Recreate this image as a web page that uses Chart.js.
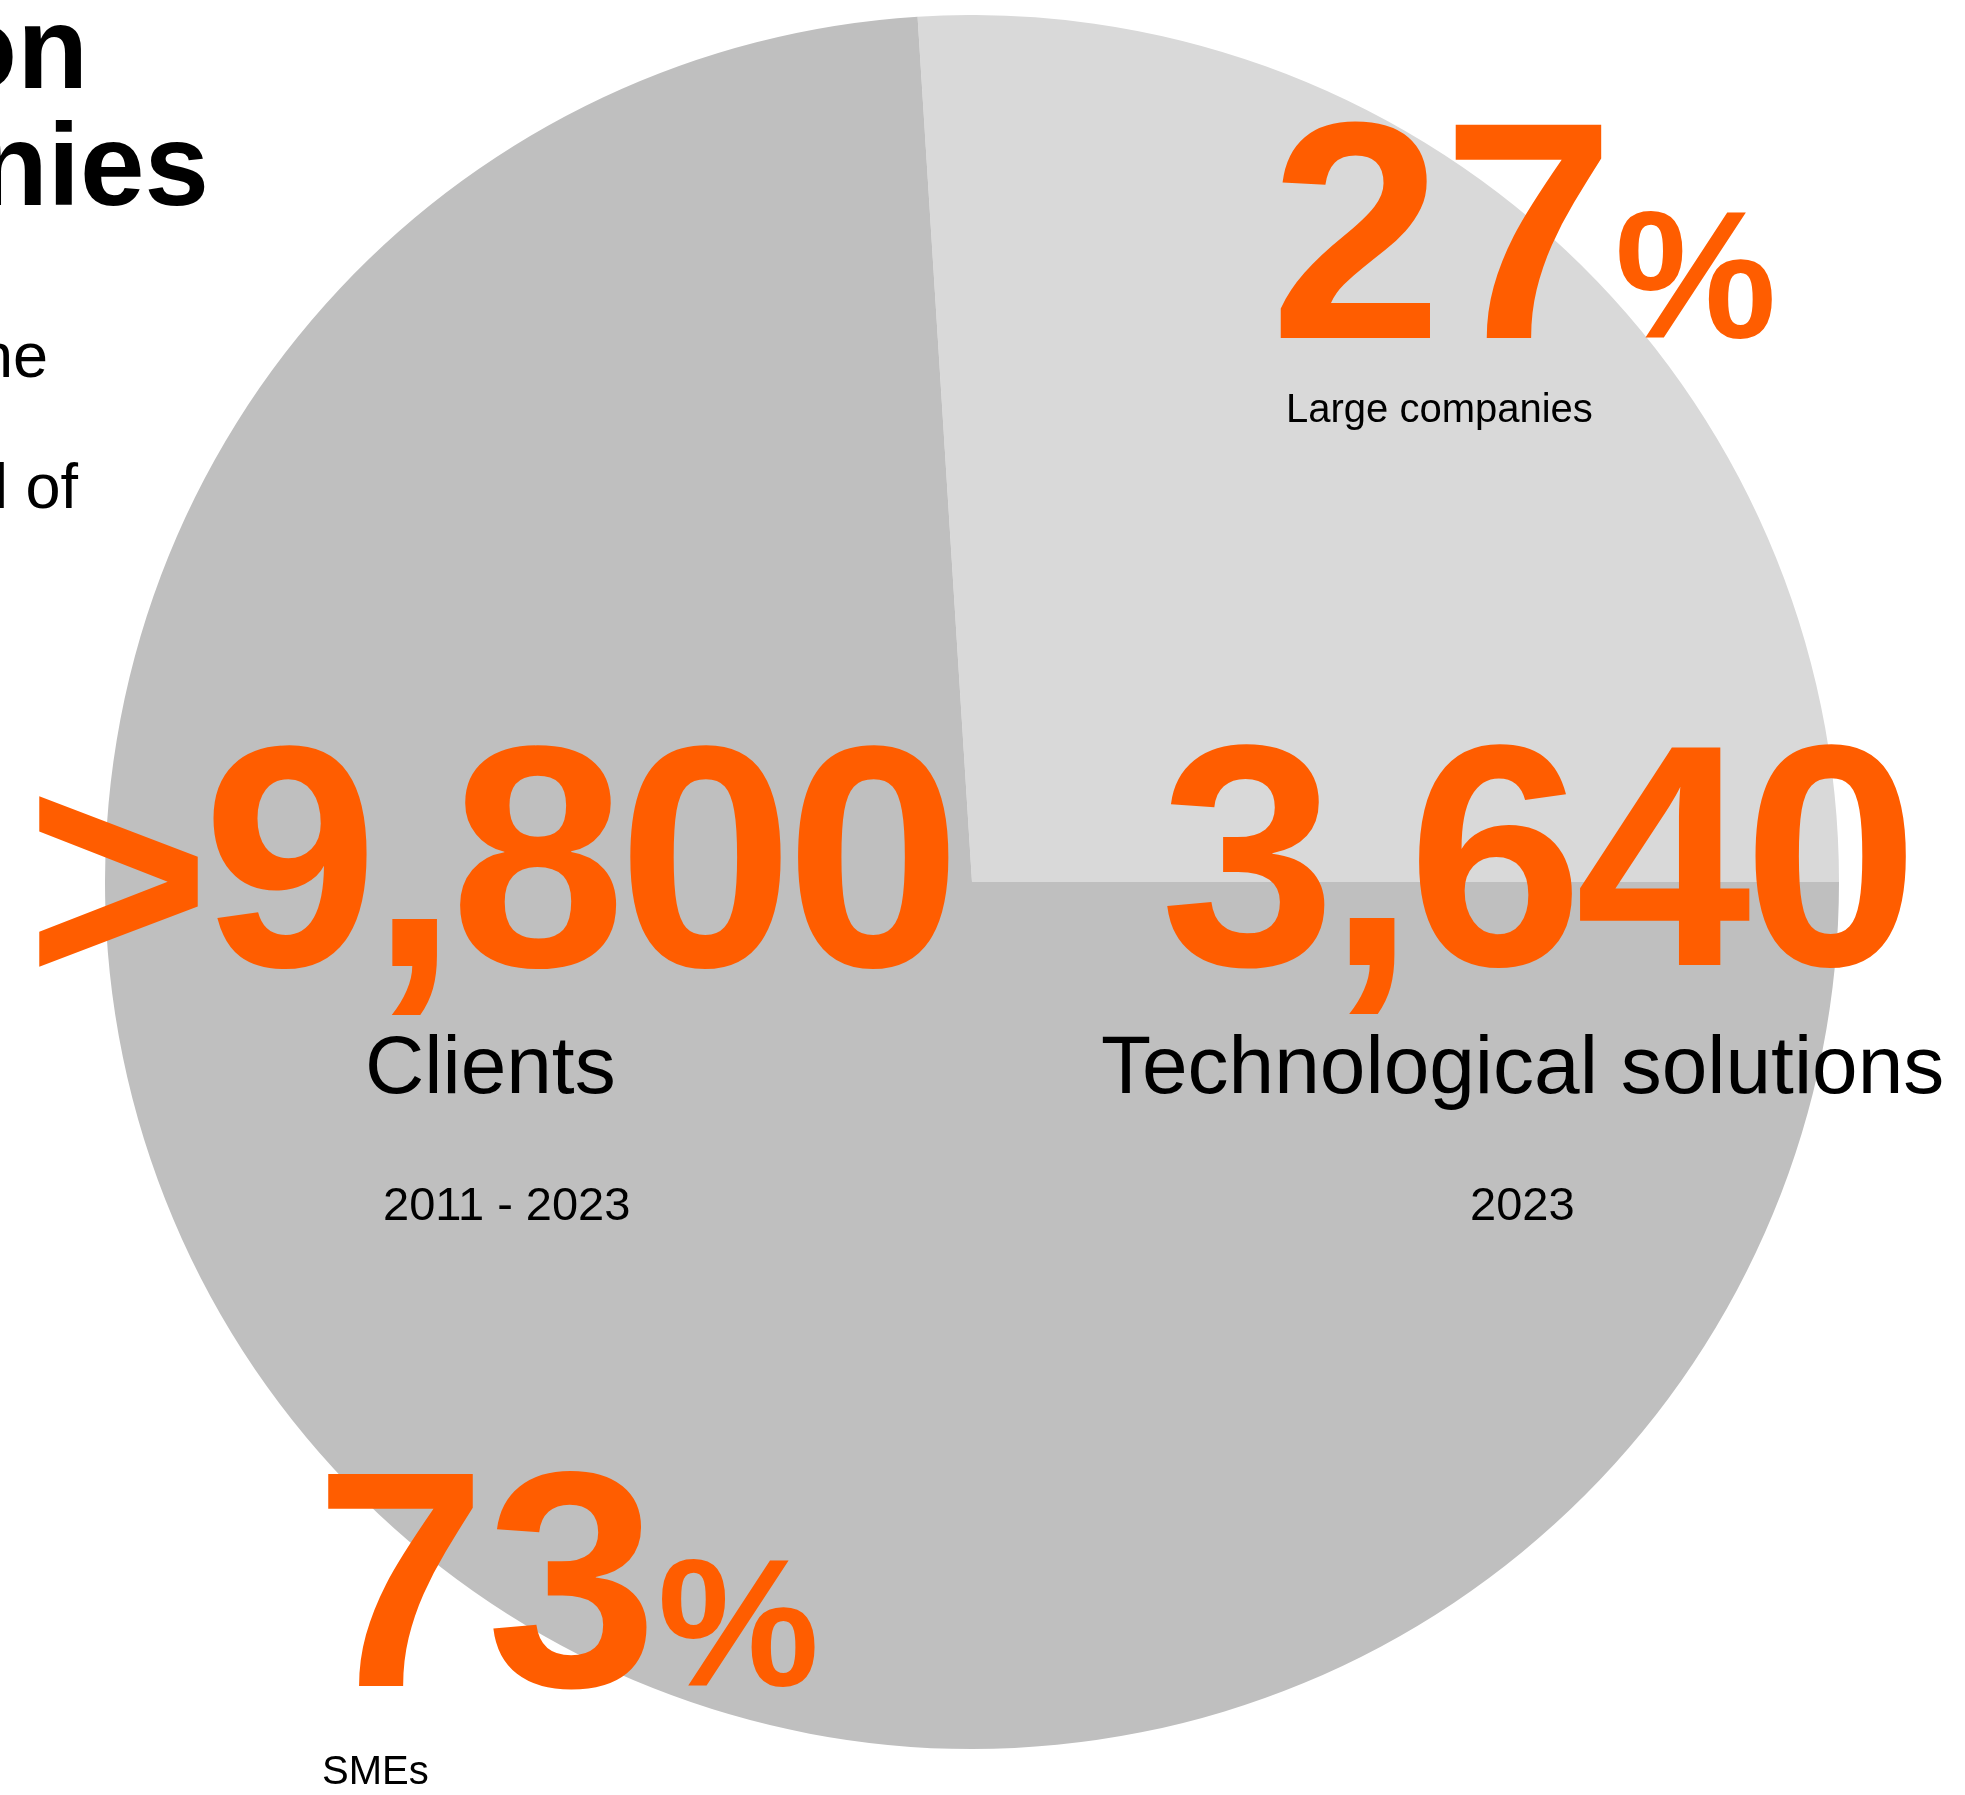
<!DOCTYPE html>
<html>
<head>
<meta charset="utf-8">
<script src="https://cdn.jsdelivr.net/npm/chart.js@4.4.1/dist/chart.umd.min.js"></script>
<style>
  html, body { margin: 0; padding: 0; background: #ffffff; }
  body { width: 1965px; height: 1795px; position: relative; overflow: hidden;
         font-family: "Liberation Sans", Arial, Helvetica, sans-serif; }
  #pie { position: absolute; left: 105px; top: 15px; }
  .t { position: absolute; white-space: nowrap; line-height: 1; }
</style>
</head>
<body>
<canvas id="pie" width="1734" height="1734"></canvas>
<script>
// ---- data ----
const categories = ['Large companies', 'SMEs'];
const shareValues = [26, 74];            // slice sizes as drawn in the picture
const shareLabels = ['27', '73'];        // printed percentages
const sliceColors = ['#d9d9d9', '#bfbfbf'];
const statPrefix = ['>', ''];
const statValues = ['9,800', '3,640'];
const statLabels = ['Clients', 'Technological solutions'];
const statPeriods = ['2011 - 2023', '2023'];
const titleFragments = ['on', 'nies'];
const bodyFragments = ['the', 'l of'];

new Chart(document.getElementById('pie'), {
  type: 'pie',
  data: {
    labels: categories,
    datasets: [{
      data: shareValues,
      backgroundColor: sliceColors,
      borderWidth: 0,
      hoverOffset: 0
    }]
  },
  options: {
    responsive: false,
    animation: false,
    devicePixelRatio: 1,
    rotation: -3.6,
    layout: { padding: 0 },
    plugins: { legend: { display: false }, tooltip: { enabled: false } }
  }
});

// ---- text overlay ----
const ORANGE = '#ff5d00';
function addText(html, opt) {
  const d = document.createElement('div');
  d.className = 't';
  d.innerHTML = html;
  d.style.fontSize = opt.size + 'px';
  d.style.fontWeight = opt.bold ? '700' : '400';
  d.style.color = opt.color || '#000';
  if (opt.ls) d.style.letterSpacing = opt.ls + 'px';
  d.style.top = (opt.baseline - 0.8465 * opt.size) + 'px';
  if (opt.right !== undefined) d.style.right = (1965 - opt.right) + 'px';
  else d.style.left = opt.left + 'px';
  document.body.appendChild(d);
}

// title / body fragments (cut by the left edge)
addText(titleFragments[0], { size: 116, bold: true, baseline: 88, right: 88 });
addText(titleFragments[1], { size: 116, bold: true, baseline: 205, right: 209 });
addText(bodyFragments[0], { size: 63, baseline: 377, right: 48 });
addText(bodyFragments[1], { size: 63, baseline: 508, right: 78 });

// percentages
addText(shareLabels[0] + '<span style="font-size:182px">%</span>',
        { size: 310, bold: true, color: ORANGE, baseline: 338, left: 1270 });
addText(categories[0], { size: 40, baseline: 422, left: 1286 });

addText(shareLabels[1] + '<span style="font-size:182px">%</span>',
        { size: 308, bold: true, color: ORANGE, baseline: 1686, left: 315 });
addText(categories[1], { size: 40, baseline: 1784, left: 322 });

// big stats
const gt = '<span style="position:relative;top:20px">' + statPrefix[0].replace('>', '&gt;') + '</span>';
addText(gt + statValues[0], { size: 316, bold: true, color: ORANGE, baseline: 966, left: 26, ls: -8 });
addText(statValues[1], { size: 316, bold: true, color: ORANGE, baseline: 965, left: 1160, ls: -8 });
addText(statLabels[0], { size: 82, baseline: 1093, left: 365 });
addText(statLabels[1], { size: 82, baseline: 1093, left: 1101 });
addText(statPeriods[0], { size: 47, baseline: 1220, left: 383 });
addText(statPeriods[1], { size: 47, baseline: 1220, left: 1470 });
</script>
</body>
</html>
